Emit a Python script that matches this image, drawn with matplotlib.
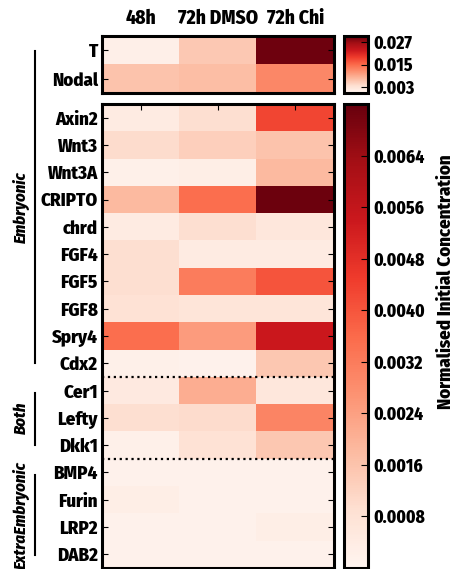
import numpy as np
import matplotlib
matplotlib.use("Agg")
import matplotlib.pyplot as plt
from matplotlib.lines import Line2D
from matplotlib import font_manager

# pick a narrow bold face if one is installed
installed = set(f.name for f in font_manager.fontManager.ttflist)
wanted = ['Fira Sans Condensed', 'PT Sans Narrow', 'Roboto Condensed',
          'Open Sans Condensed', 'Asap Condensed', 'Liberation Sans Narrow']
families = [f for f in wanted if f in installed] + ['DejaVu Sans']
plt.rcParams['font.family'] = families
plt.rcParams['font.weight'] = 'heavy'

conditions = ['48h', '72h DMSO', '72h Chi']

top_genes = ['T', 'Nodal']
top_48h = [0.0010, 0.0066]
top_dmso = [0.0062, 0.0072]
top_chi = [0.0295, 0.0122]

genes = ['Axin2', 'Wnt3', 'Wnt3A', 'CRIPTO', 'chrd', 'FGF4', 'FGF5', 'FGF8',
         'Spry4', 'Cdx2', 'Cer1', 'Lefty', 'Dkk1', 'BMP4', 'Furin', 'LRP2', 'DAB2']
vals_48h = [0.0004, 0.0010, 0.0002, 0.0018, 0.0004, 0.0009, 0.0009, 0.0008,
            0.0035, 0.0002, 0.0005, 0.0009, 0.0002, 0.00015, 0.0003, 0.00015, 0.00015]
vals_dmso = [0.0009, 0.0013, 0.0003, 0.0035, 0.0009, 0.0004, 0.0032, 0.0007,
             0.0025, 0.00015, 0.0021, 0.0010, 0.0008, 0.00015, 0.00015, 0.00015, 0.00015]
vals_chi = [0.0043, 0.0016, 0.0018, 0.0071, 0.0006, 0.0004, 0.0040, 0.0007,
            0.0054, 0.0015, 0.0006, 0.0030, 0.0015, 0.00015, 0.00015, 0.0003, 0.00015]

top_ticks = [0.003, 0.015, 0.027]
bottom_ticks = [0.0008, 0.0016, 0.0024, 0.0032, 0.0040, 0.0048, 0.0056, 0.0064]

W, H = 456, 569
fig = plt.figure(figsize=(W / 100, H / 100), dpi=100)


def px(x0, y0, x1, y1):
    # pixel box (top-left origin) -> figure fraction rect
    return [x0 / W, 1 - y1 / H, (x1 - x0) / W, (y1 - y0) / H]


ax_top = fig.add_axes(px(102, 36, 334, 93))
ax_bot = fig.add_axes(px(102, 104, 334, 568))
cax_top = fig.add_axes(px(344, 36, 368, 93))
cax_bot = fig.add_axes(px(344, 104, 368, 568))

top_data = np.column_stack([top_48h, top_dmso, top_chi])
bot_data = np.column_stack([vals_48h, vals_dmso, vals_chi])

im1 = ax_top.imshow(top_data, cmap='Reds', vmin=0, vmax=0.03, aspect='auto',
                    interpolation='nearest')
im2 = ax_bot.imshow(bot_data, cmap='Reds', vmin=0, vmax=0.0072, aspect='auto',
                    interpolation='nearest')

fs = 13.5
for ax, labels in [(ax_top, top_genes), (ax_bot, genes)]:
    ax.set_yticks(range(len(labels)))
    ax.set_yticklabels(labels, fontsize=fs)
    ax.tick_params(axis='y', direction='in', length=4, width=0.8, left=True,
                   right=True, pad=3)
    for s in ax.spines.values():
        s.set_linewidth(2.2)

ax_top.set_xticks(range(3))
ax_top.set_xticklabels(conditions, fontsize=14)
ax_top.xaxis.set_ticks_position('top')
ax_top.tick_params(axis='x', length=0, pad=6, top=True, bottom=False,
                   labeltop=True, labelbottom=False)

ax_bot.set_xticks(range(3))
ax_bot.set_xticklabels([])
ax_bot.tick_params(axis='x', direction='in', length=4, width=0.8, top=True,
                   bottom=False)

for yb in [9.5, 12.5]:
    ax_bot.axhline(yb, color='black', linestyle=':', linewidth=1.6)

cb1 = fig.colorbar(im1, cax=cax_top, ticks=top_ticks)
cb2 = fig.colorbar(im2, cax=cax_bot, ticks=bottom_ticks)
cb1.ax.set_yticklabels(['%.3f' % t for t in top_ticks], fontsize=12.5)
cb2.ax.set_yticklabels(['%.4f' % t for t in bottom_ticks], fontsize=12.5)
for cb in [cb1, cb2]:
    cb.ax.tick_params(direction='in', length=5, width=0.8, pad=4)
    cb.outline.set_linewidth(2.2)

fig.text(446 / W, 1 - 282 / H, 'Normalised Initial Concentration', rotation=90,
         ha='center', va='center', fontsize=13.5)

# group brackets on the left
groups = [('Embryonic', 51, 363, 207), ('Both', 393, 445, 418),
          ('ExtraEmbryonic', 475, 555, 515)]
for name, y0, y1, yc in groups:
    fig.add_artist(Line2D([35 / W, 35 / W], [1 - y0 / H, 1 - y1 / H],
                          color='black', linewidth=1.5))
    fig.text(21 / W, 1 - yc / H, name, rotation=90, ha='center', va='center',
             fontsize=12, fontstyle='italic')

fig.savefig('out.png', dpi=100)
